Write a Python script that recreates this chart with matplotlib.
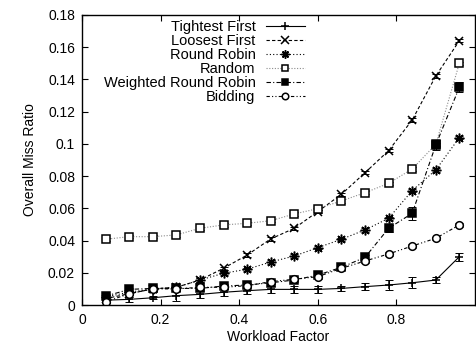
import matplotlib
matplotlib.use('Agg')
import matplotlib.pyplot as plt
from matplotlib import ticker

plt.rcParams['font.family'] = ['Liberation Sans', 'DejaVu Sans']
plt.rcParams['font.size'] = 10

# workload factor
x = [0.06, 0.12, 0.18, 0.24, 0.30, 0.36, 0.42, 0.48,
     0.54, 0.60, 0.66, 0.72, 0.78, 0.84, 0.90, 0.96]

tightest = [0.003, 0.0035, 0.0045, 0.0058, 0.0066, 0.0079, 0.0089, 0.0097,
            0.0097, 0.0097, 0.0103, 0.0114, 0.0124, 0.0138, 0.0155, 0.030]
tightest_err = [0.001, 0.0015, 0.001, 0.003, 0.002, 0.002, 0.002, 0.002,
                0.002, 0.002, 0.0015, 0.002, 0.0033, 0.0035, 0.002, 0.0025]
loosest = [0.004, 0.007, 0.010, 0.011, 0.0155, 0.0228, 0.031, 0.041,
           0.0476, 0.058, 0.0687, 0.0821, 0.0958, 0.1148, 0.1421, 0.164]
round_robin = [0.005, 0.008, 0.010, 0.011, 0.0155, 0.0197, 0.0222, 0.0267,
               0.0304, 0.0356, 0.0408, 0.0466, 0.0538, 0.0710, 0.0838, 0.1039]
random_ = [0.0408, 0.0424, 0.0424, 0.0435, 0.0476, 0.0497, 0.0507, 0.0523,
           0.0565, 0.0598, 0.0646, 0.0697, 0.0755, 0.0844, 0.0997, 0.150]
wrr = [0.0055, 0.0097, 0.0103, 0.0103, 0.0103, 0.0118, 0.0124, 0.0138,
       0.0155, 0.0186, 0.0234, 0.0296, 0.0476, 0.0569, 0.0993, 0.1351]
wrr_err = [0.001, 0.001, 0.001, 0.001, 0.001, 0.001, 0.001, 0.001,
           0.001, 0.001, 0.001, 0.0015, 0.002, 0.004, 0.003, 0.003]
bidding = [0.002, 0.007, 0.010, 0.010, 0.011, 0.011, 0.012, 0.0145,
           0.016, 0.0176, 0.0228, 0.0273, 0.0317, 0.0366, 0.0414, 0.0497]
small_err = [0.001] * len(x)

fig = plt.figure(figsize=(4.77, 3.47), dpi=100)
ax = fig.add_axes([0.172, 0.121, 0.824, 0.836])

lw = 0.8

# (label, y, yerr, linestyle, line colour, marker, marker size, marker face)
series = [
    ('Tightest First', tightest, tightest_err, '-', 'black', '+', 6, 'none'),
    ('Loosest First', loosest, small_err, (0, (3, 2)), 'black', 'x', 6, 'none'),
    ('Round Robin', round_robin, small_err, (0, (1, 2)), 'black', (8, 2, 0), 7, 'none'),
    ('Random', random_, small_err, (0, (1, 1.5)), '0.55', 's', 5.5, 'white'),
    ('Weighted Round Robin', wrr, wrr_err, (0, (4, 2, 1, 2)), 'black', 's', 5.5, 'black'),
    ('Bidding', bidding, small_err, (0, (3, 2, 1, 2, 1, 2)), 'black', 'o', 5.5, 'white'),
]

for label, ys, err, ls, col, mk, ms, mfc in series:
    ax.errorbar(x, ys, yerr=err, fmt='none', ecolor='black', elinewidth=0.7,
                capsize=3, capthick=0.7)
    ax.plot(x, ys, linestyle=ls, color=col, linewidth=lw, marker=mk,
            markersize=ms, markerfacecolor=mfc, markeredgecolor='black',
            markeredgewidth=1.1, label=label)

ax.set_xlim(0, 1.0)
ax.set_ylim(0, 0.18)
ax.set_xticks([0, 0.2, 0.4, 0.6, 0.8])
ax.set_yticks([0, 0.02, 0.04, 0.06, 0.08, 0.1, 0.12, 0.14, 0.16, 0.18])
fmt = ticker.FuncFormatter(lambda v, p: '%g' % round(v, 4))
ax.xaxis.set_major_formatter(fmt)
ax.yaxis.set_major_formatter(fmt)
ax.tick_params(direction='in', length=4, width=0.8, top=True, right=True, pad=5)
ax.tick_params(axis='x', pad=6)
for s in ax.spines.values():
    s.set_linewidth(1.0)

ax.set_xlabel('Workload Factor', labelpad=2)
ax.set_ylabel('Overall Miss Ratio', labelpad=8)

leg = ax.legend(loc='upper right', bbox_to_anchor=(305 / 477, 1 - 20 / 347),
                bbox_transform=fig.transFigure, frameon=False, markerfirst=False,
                numpoints=1, handlelength=2.7, handletextpad=0.7,
                labelspacing=0.0, borderpad=0, borderaxespad=0, fontsize=10.5,
                markerscale=0.85)

fig.savefig('out.png', dpi=100)
